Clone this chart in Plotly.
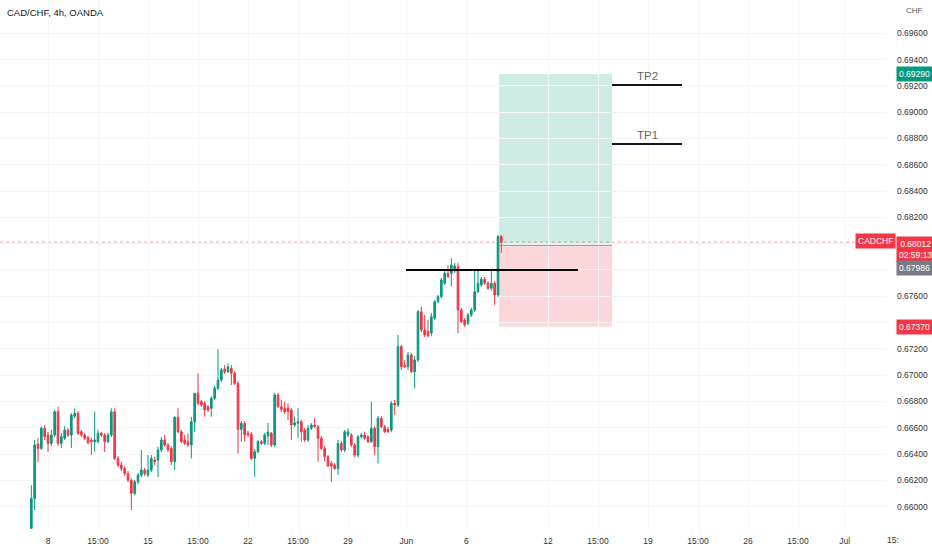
import plotly.graph_objects as go

# ---------------- data (4h CAD/CHF candles) ----------------
opens = [0.65835,0.66063,0.66476,0.66443,0.66596,0.66545,0.66481,0.66545,0.66722,0.66481,
         0.66520,0.66583,0.66545,0.66689,0.66710,0.66570,0.66545,0.66527,0.66507,0.66494,
         0.66494,0.66558,0.66545,0.66494,0.66545,0.66722,0.66367,0.66316,0.66291,0.66253,
         0.66202,0.66101,0.66189,0.66240,0.66278,0.66240,0.66278,0.66354,0.66354,0.66431,
         0.66507,0.66469,0.66443,0.66342,0.66679,0.66570,0.66507,0.66494,0.66469,0.66646,
         0.66862,0.66798,0.66786,0.66760,0.66748,0.66824,0.66900,0.66963,0.67045,0.67026,
         0.67052,0.67014,0.66938,0.66588,0.66634,0.66558,0.66550,0.66367,0.66418,0.66494,
         0.66481,0.66537,0.66558,0.66469,0.66849,0.66760,0.66748,0.66750,0.66735,0.66621,
         0.66634,0.66646,0.66583,0.66507,0.66596,0.66621,0.66608,0.66520,0.66443,0.66380,
         0.66329,0.66316,0.66291,0.66481,0.66431,0.66545,0.66545,0.66469,0.66392,0.66532,
         0.66545,0.66532,0.66494,0.66596,0.66456,0.66672,0.66608,0.66588,0.66583,0.66786,
         0.66773,0.67217,0.67077,0.67064,0.67153,0.67026,0.67115,0.67483,0.67344,0.67335,
         0.67321,0.67433,0.67559,0.67597,0.67699,0.67775,0.67775,0.67793,0.67826,0.67496,
         0.67420,0.67395,0.67458,0.67496,0.67635,0.67686,0.67729,0.67699,0.67661,0.67699,
         0.67610,0.68054]
highs = [0.66164,0.66507,0.66522,0.66608,0.66621,0.66568,0.66583,0.66735,0.66760,0.66560,
         0.66613,0.66598,0.66712,0.66748,0.66727,0.66583,0.66560,0.66537,0.66522,0.66722,
         0.66583,0.66568,0.66560,0.66560,0.66748,0.66748,0.66385,0.66339,0.66309,0.66271,
         0.66217,0.66202,0.66256,0.66431,0.66294,0.66392,0.66392,0.66380,0.66456,0.66529,
         0.66545,0.66484,0.66461,0.66689,0.66748,0.66583,0.66545,0.66558,0.66684,0.66864,
         0.67014,0.66811,0.66803,0.66773,0.66841,0.66918,0.67197,0.67055,0.67077,0.67090,
         0.67077,0.67032,0.66956,0.66651,0.66651,0.66575,0.66568,0.66438,0.66507,0.66507,
         0.66560,0.66636,0.66568,0.66864,0.66864,0.66811,0.66798,0.66786,0.66750,0.66684,
         0.66748,0.66659,0.66598,0.66621,0.66636,0.66672,0.66621,0.66537,0.66461,0.66392,
         0.66347,0.66331,0.66507,0.66499,0.66583,0.66596,0.66560,0.66484,0.66545,0.66560,
         0.66570,0.66545,0.66798,0.66613,0.66689,0.66689,0.66621,0.66606,0.66803,0.66811,
         0.67306,0.67230,0.67115,0.67176,0.67169,0.67146,0.67496,0.67521,0.67458,0.67420,
         0.67473,0.67572,0.67610,0.67739,0.67793,0.67838,0.67889,0.67854,0.67854,0.67511,
         0.67435,0.67473,0.67511,0.67800,0.67800,0.67747,0.67747,0.67716,0.67800,0.67716,
         0.68067,0.68067]
lows = [0.65830,0.65974,0.66339,0.66431,0.66507,0.66415,0.66461,0.66529,0.66461,0.66446,
        0.66507,0.66529,0.66446,0.66674,0.66545,0.66529,0.66507,0.66476,0.66392,0.66418,
        0.66484,0.66529,0.66415,0.66484,0.66529,0.66354,0.66301,0.66271,0.66233,0.66187,
        0.65974,0.66088,0.66172,0.66225,0.66233,0.66225,0.66263,0.66316,0.66227,0.66415,
        0.66453,0.66415,0.66316,0.66278,0.66560,0.66484,0.66469,0.66453,0.66367,0.66570,
        0.66773,0.66758,0.66684,0.66720,0.66684,0.66811,0.66887,0.66948,0.67009,0.67016,
        0.66925,0.66925,0.66405,0.66494,0.66494,0.66529,0.66354,0.66227,0.66408,0.66469,
        0.66469,0.66469,0.66453,0.66453,0.66750,0.66720,0.66704,0.66659,0.66507,0.66606,
        0.66520,0.66494,0.66491,0.66491,0.66583,0.66598,0.66342,0.66431,0.66342,0.66303,
        0.66189,0.66278,0.66240,0.66415,0.66415,0.66529,0.66453,0.66377,0.66377,0.66522,
        0.66507,0.66484,0.66484,0.66392,0.66329,0.66598,0.66560,0.66560,0.66568,0.66697,
        0.66758,0.67039,0.67055,0.67039,0.67016,0.66900,0.67100,0.67328,0.67290,0.67285,
        0.67298,0.67420,0.67549,0.67585,0.67686,0.67739,0.67673,0.67778,0.67319,0.67397,
        0.67367,0.67382,0.67443,0.67481,0.67625,0.67671,0.67686,0.67648,0.67640,0.67534,
        0.67595,0.67930]
closes = [0.66063,0.66469,0.66443,0.66596,0.66532,0.66481,0.66545,0.66722,0.66481,0.66532,
          0.66583,0.66545,0.66697,0.66710,0.66558,0.66545,0.66520,0.66486,0.66494,0.66507,
          0.66558,0.66545,0.66494,0.66545,0.66722,0.66367,0.66316,0.66291,0.66253,0.66202,
          0.66101,0.66189,0.66240,0.66278,0.66253,0.66278,0.66367,0.66342,0.66431,0.66507,
          0.66469,0.66431,0.66342,0.66679,0.66570,0.66494,0.66481,0.66469,0.66646,0.66862,
          0.66786,0.66773,0.66735,0.66735,0.66824,0.66900,0.66963,0.67039,0.67026,0.67064,
          0.67014,0.66938,0.66588,0.66634,0.66545,0.66545,0.66367,0.66418,0.66494,0.66481,
          0.66545,0.66568,0.66469,0.66849,0.66760,0.66740,0.66722,0.66722,0.66621,0.66638,
          0.66646,0.66570,0.66507,0.66596,0.66621,0.66608,0.66520,0.66443,0.66380,0.66309,
          0.66309,0.66291,0.66481,0.66431,0.66570,0.66570,0.66469,0.66392,0.66532,0.66545,
          0.66520,0.66494,0.66596,0.66456,0.66672,0.66608,0.66570,0.66570,0.66786,0.66773,
          0.67217,0.67064,0.67064,0.67153,0.67026,0.67115,0.67483,0.67344,0.67306,0.67300,
          0.67445,0.67559,0.67597,0.67724,0.67775,0.67749,0.67838,0.67831,0.67496,0.67407,
          0.67382,0.67458,0.67496,0.67635,0.67699,0.67729,0.67699,0.67661,0.67699,0.67610,
          0.68054,0.68012]

# bar positions (bar index; "8" May = 0)
bar_index = list(range(-5, -5 + len(opens)))

# time-axis ticks (bar index -> label)
time_tick_pos = [0, 15, 30, 45, 60, 75, 90, 107.5, 125.5, 150, 165, 180, 195, 210, 225, 239]
time_tick_text = ["8", "15:00", "15", "15:00", "22", "15:00", "29", "Jun", "6",
                  "12", "15:00", "19", "15:00", "26", "15:00", "Jul"]

price_ticks = [0.660 + 0.002 * k for k in range(19)]
# labels hidden behind the price-scale markers are left blank
hidden_price_labels = ["0.67400", "0.67800", "0.68000"]
price_tick_text = [("" if f"{v:.5f}" in hidden_price_labels else f"{v:.5f}") for v in price_ticks]

# trade setup levels
last_price = 0.68012
entry_price = 0.67986
target_price = 0.69290
stop_price = 0.67370
tp1_level = 0.68759
tp2_level = 0.69207
resistance_level = 0.67800
box_start, box_end = 135.3, 169.2
tp_end = 190.2
res_start, res_end = 107.4, 159.0

GREEN = "#089981"
RED = "#f23645"
FONT = "Liberation Sans"

fig = go.Figure()
fig.add_trace(go.Candlestick(
    x=bar_index, open=opens, high=highs, low=lows, close=closes,
    increasing=dict(line=dict(color=GREEN, width=1), fillcolor=GREEN),
    decreasing=dict(line=dict(color=RED, width=1), fillcolor=RED),
    whiskerwidth=0, showlegend=False, hoverinfo="skip",
))

shapes = []
# current price line
shapes.append(dict(type="line", xref="paper", x0=0, x1=1, yref="y", y0=last_price, y1=last_price,
                   line=dict(color="rgba(242,54,69,0.45)", width=1, dash="dot"), layer="below"))
# position tool boxes
shapes.append(dict(type="rect", x0=box_start, x1=box_end, y0=entry_price, y1=target_price,
                   fillcolor="rgba(8,153,129,0.2)", line=dict(width=0), layer="below"))
shapes.append(dict(type="rect", x0=box_start, x1=box_end, y0=stop_price, y1=entry_price,
                   fillcolor="rgba(242,54,69,0.2)", line=dict(width=0), layer="below"))
shapes.append(dict(type="line", x0=box_start, x1=box_end, y0=entry_price, y1=entry_price,
                   line=dict(color="rgba(120,123,134,0.6)", width=1)))
# TP lines
for lvl in (tp1_level, tp2_level):
    shapes.append(dict(type="line", x0=box_end, x1=tp_end, y0=lvl, y1=lvl,
                       line=dict(color="#131722", width=2)))
# resistance line
shapes.append(dict(type="line", x0=res_start, x1=res_end, y0=resistance_level, y1=resistance_level,
                   line=dict(color="#000000", width=2)))

annotations = [
    dict(text="CAD/CHF, 4h, OANDA", xref="paper", yref="paper", x=0.006, y=0.977,
         xanchor="left", yanchor="middle", showarrow=False,
         font=dict(family=FONT, size=9.5, color="#131722")),
    dict(text="CHF", xref="paper", yref="paper", x=1.0205, y=0.981, xanchor="left",
         yanchor="middle", showarrow=False, font=dict(family=FONT, size=8, color="#555")),
    dict(text="TP2", x=(box_end + tp_end) / 2, y=tp2_level, yshift=9, showarrow=False,
         font=dict(family=FONT, size=11.5, color="#666"), xanchor="center", yanchor="middle"),
    dict(text="TP1", x=(box_end + tp_end) / 2, y=tp1_level, yshift=9, showarrow=False,
         font=dict(family=FONT, size=11.5, color="#666"), xanchor="center", yanchor="middle"),
    dict(text="15:", xref="paper", yref="paper", x=1.008, y=-0.019, xanchor="center",
         yanchor="middle", showarrow=False, font=dict(family=FONT, size=8.5, color="#333")),
]

def price_box(text, price, bg, yshift=0, yanchor="middle", x=1.0113, xanchor="left"):
    return dict(text=text, xref="paper", yref="y", x=x, y=price, xanchor=xanchor, yanchor=yanchor,
                yshift=yshift, showarrow=False, bgcolor=bg, borderpad=2,
                font=dict(family=FONT, size=8.5, color="white"), align="center")

annotations += [
    price_box("0.69290", target_price, GREEN),
    price_box("0.68012<br>02:59:13", last_price, RED, yshift=6, yanchor="top"),
    price_box("CADCHF", last_price, RED, yshift=1, x=1.0113, xanchor="right"),
    price_box("0.67986", entry_price, "#787b86", yshift=-14, yanchor="top"),
    price_box("0.67370", stop_price, RED),
]

fig.update_layout(
    width=932, height=550,
    margin=dict(l=0, r=46, t=0, b=20),
    paper_bgcolor="white", plot_bgcolor="white",
    shapes=shapes, annotations=annotations,
    showlegend=False,
    font=dict(family=FONT, size=8.5, color="#333"),
    xaxis=dict(range=[-14.4, 251.4], tickmode="array", tickvals=time_tick_pos,
               ticktext=time_tick_text, showgrid=True, gridcolor="#f5f6f8", gridwidth=1,
               zeroline=False, showline=False, ticks="", rangeslider=dict(visible=False),
               tickfont=dict(family=FONT, size=8.5, color="#333"), ticklabelstandoff=4),
    yaxis=dict(side="right", range=[0.658226, 0.698532], tickmode="array",
               tickvals=price_ticks, ticktext=price_tick_text, showgrid=True,
               gridcolor="#f3f4f7", zeroline=False, showline=False, ticks="",
               ticklabelstandoff=10, tickfont=dict(family=FONT, size=8.5, color="#333")),
)

fig.write_html(
    "out.html",
    config={"displayModeBar": False},
    post_script="document.body.style.margin='0';document.body.style.overflow='hidden';",
)
